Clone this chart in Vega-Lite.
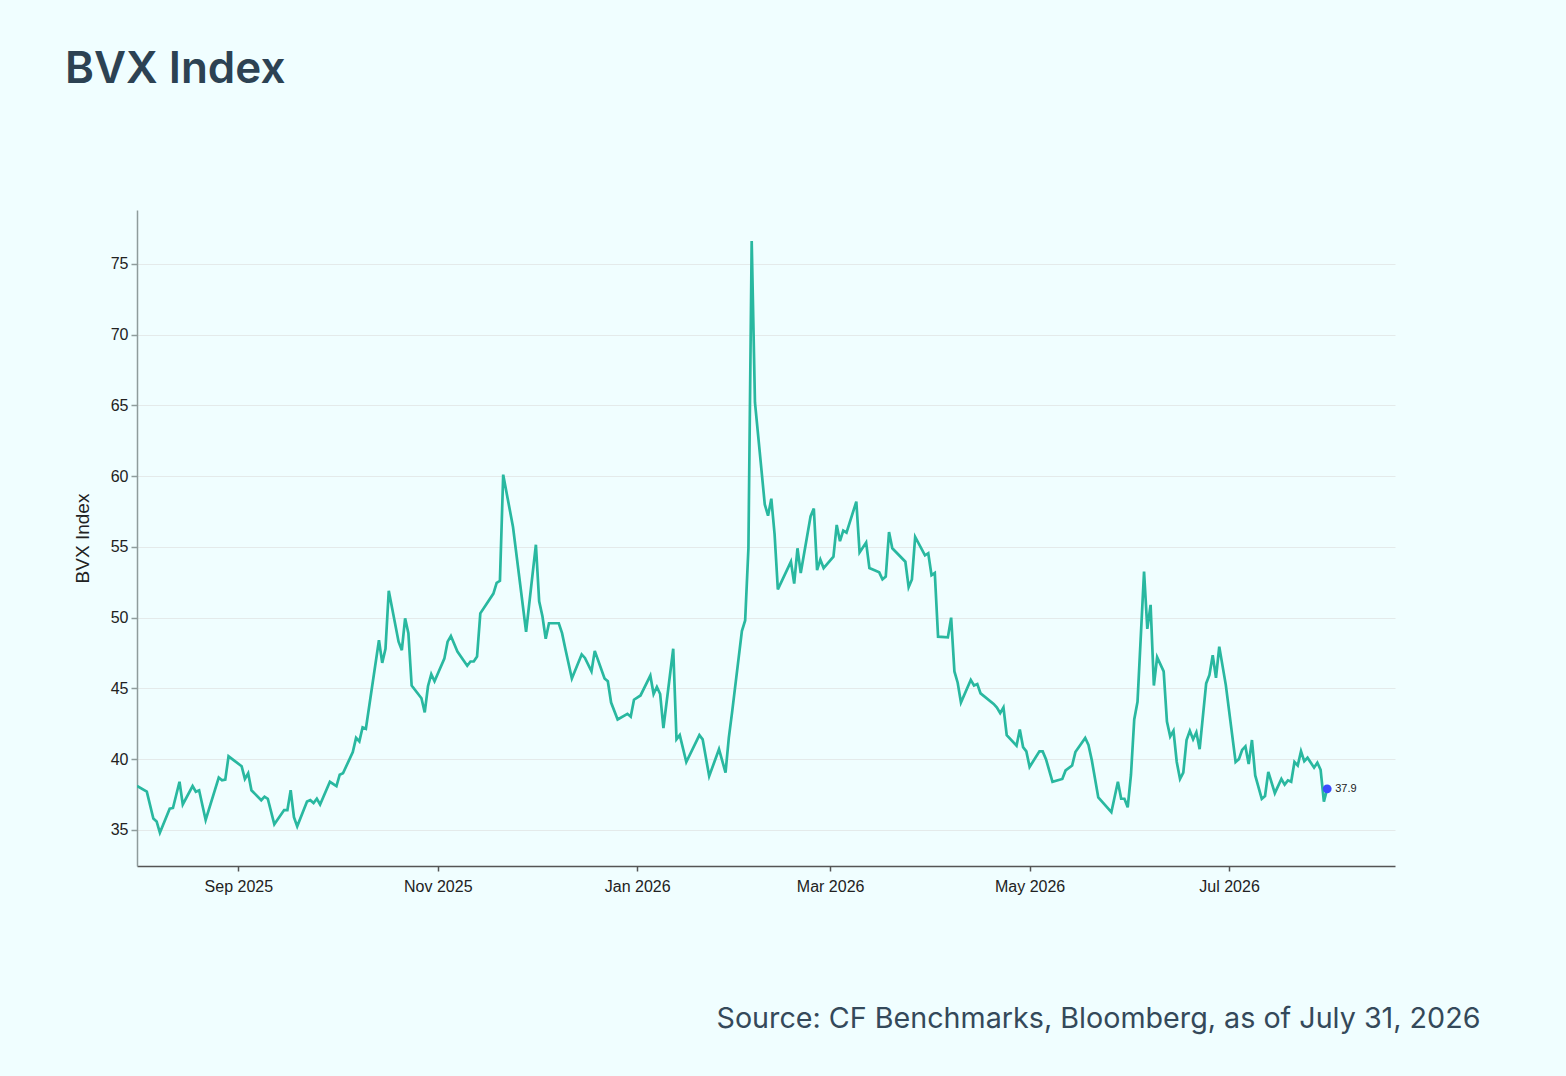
{
  "$schema": "https://vega.github.io/schema/vega-lite/v6.json",
  "autosize": "none",
  "width": 1258,
  "height": 656,
  "padding": {"left": 137, "top": 210, "right": 171, "bottom": 210},
  "background": "#f0feff",
  "title": {
    "text": "BVX Index",
    "anchor": "start",
    "frame": "group",
    "dx": -72,
    "offset": 118,
    "font": "Inter",
    "fontSize": 44,
    "fontWeight": 600,
    "color": "#2c4253"
  },
  "config": {
    "view": {"stroke": null},
    "axis": {
      "labelFont": "Liberation Sans",
      "labelFontSize": 16,
      "labelColor": "#222222",
      "titleFont": "Liberation Sans",
      "titleColor": "#222222",
      "titleFontWeight": "normal"
    }
  },
  "data": {
    "format": {"parse": {"date": "date:'%Y-%m-%d'"}},
    "values": [
      {"date": "2025-08-01", "value": 38.1},
      {"date": "2025-08-04", "value": 37.7},
      {"date": "2025-08-06", "value": 35.8},
      {"date": "2025-08-07", "value": 35.6},
      {"date": "2025-08-08", "value": 34.8},
      {"date": "2025-08-11", "value": 36.5},
      {"date": "2025-08-12", "value": 36.55},
      {"date": "2025-08-14", "value": 38.4},
      {"date": "2025-08-15", "value": 36.8},
      {"date": "2025-08-18", "value": 38.1},
      {"date": "2025-08-19", "value": 37.7},
      {"date": "2025-08-20", "value": 37.8},
      {"date": "2025-08-22", "value": 35.7},
      {"date": "2025-08-26", "value": 38.7},
      {"date": "2025-08-27", "value": 38.5},
      {"date": "2025-08-28", "value": 38.55},
      {"date": "2025-08-29", "value": 40.2},
      {"date": "2025-09-02", "value": 39.5},
      {"date": "2025-09-03", "value": 38.6},
      {"date": "2025-09-04", "value": 39.0},
      {"date": "2025-09-05", "value": 37.8},
      {"date": "2025-09-08", "value": 37.1},
      {"date": "2025-09-09", "value": 37.35},
      {"date": "2025-09-10", "value": 37.2},
      {"date": "2025-09-12", "value": 35.4},
      {"date": "2025-09-15", "value": 36.4},
      {"date": "2025-09-16", "value": 36.4},
      {"date": "2025-09-17", "value": 37.8},
      {"date": "2025-09-18", "value": 35.9},
      {"date": "2025-09-19", "value": 35.25},
      {"date": "2025-09-22", "value": 37.0},
      {"date": "2025-09-23", "value": 37.1},
      {"date": "2025-09-24", "value": 36.9},
      {"date": "2025-09-25", "value": 37.2},
      {"date": "2025-09-26", "value": 36.8},
      {"date": "2025-09-29", "value": 38.4},
      {"date": "2025-10-01", "value": 38.1},
      {"date": "2025-10-02", "value": 38.9},
      {"date": "2025-10-03", "value": 39.0},
      {"date": "2025-10-06", "value": 40.5},
      {"date": "2025-10-07", "value": 41.5},
      {"date": "2025-10-08", "value": 41.25},
      {"date": "2025-10-09", "value": 42.25},
      {"date": "2025-10-10", "value": 42.15},
      {"date": "2025-10-14", "value": 48.4},
      {"date": "2025-10-15", "value": 46.8},
      {"date": "2025-10-16", "value": 47.8},
      {"date": "2025-10-17", "value": 51.9},
      {"date": "2025-10-20", "value": 48.3},
      {"date": "2025-10-21", "value": 47.7},
      {"date": "2025-10-22", "value": 49.95},
      {"date": "2025-10-23", "value": 48.9},
      {"date": "2025-10-24", "value": 45.2},
      {"date": "2025-10-27", "value": 44.3},
      {"date": "2025-10-28", "value": 43.3},
      {"date": "2025-10-29", "value": 45.15},
      {"date": "2025-10-30", "value": 46.0},
      {"date": "2025-10-31", "value": 45.5},
      {"date": "2025-11-03", "value": 47.1},
      {"date": "2025-11-04", "value": 48.3},
      {"date": "2025-11-05", "value": 48.7},
      {"date": "2025-11-07", "value": 47.6},
      {"date": "2025-11-10", "value": 46.6},
      {"date": "2025-11-11", "value": 46.9},
      {"date": "2025-11-12", "value": 46.9},
      {"date": "2025-11-13", "value": 47.25},
      {"date": "2025-11-14", "value": 50.3},
      {"date": "2025-11-16", "value": 51.0},
      {"date": "2025-11-18", "value": 51.7},
      {"date": "2025-11-19", "value": 52.45},
      {"date": "2025-11-20", "value": 52.6},
      {"date": "2025-11-21", "value": 60.1},
      {"date": "2025-11-24", "value": 56.4},
      {"date": "2025-11-28", "value": 49.0},
      {"date": "2025-12-01", "value": 55.15},
      {"date": "2025-12-02", "value": 51.15},
      {"date": "2025-12-03", "value": 50.1},
      {"date": "2025-12-04", "value": 48.5},
      {"date": "2025-12-05", "value": 49.6},
      {"date": "2025-12-08", "value": 49.6},
      {"date": "2025-12-09", "value": 48.9},
      {"date": "2025-12-10", "value": 47.8},
      {"date": "2025-12-12", "value": 45.7},
      {"date": "2025-12-15", "value": 47.4},
      {"date": "2025-12-16", "value": 47.15},
      {"date": "2025-12-18", "value": 46.2},
      {"date": "2025-12-19", "value": 47.65},
      {"date": "2025-12-22", "value": 45.7},
      {"date": "2025-12-23", "value": 45.5},
      {"date": "2025-12-24", "value": 44.0},
      {"date": "2025-12-26", "value": 42.8},
      {"date": "2025-12-29", "value": 43.2},
      {"date": "2025-12-30", "value": 43.0},
      {"date": "2025-12-31", "value": 44.2},
      {"date": "2026-01-02", "value": 44.5},
      {"date": "2026-01-05", "value": 45.9},
      {"date": "2026-01-06", "value": 44.6},
      {"date": "2026-01-07", "value": 45.1},
      {"date": "2026-01-08", "value": 44.6},
      {"date": "2026-01-09", "value": 42.2},
      {"date": "2026-01-12", "value": 47.8},
      {"date": "2026-01-13", "value": 41.4},
      {"date": "2026-01-14", "value": 41.7},
      {"date": "2026-01-16", "value": 39.8},
      {"date": "2026-01-20", "value": 41.7},
      {"date": "2026-01-21", "value": 41.4},
      {"date": "2026-01-23", "value": 38.8},
      {"date": "2026-01-26", "value": 40.7},
      {"date": "2026-01-28", "value": 39.05},
      {"date": "2026-01-29", "value": 41.5},
      {"date": "2026-01-30", "value": 43.3},
      {"date": "2026-02-02", "value": 49.05},
      {"date": "2026-02-03", "value": 49.8},
      {"date": "2026-02-04", "value": 54.9},
      {"date": "2026-02-05", "value": 76.6},
      {"date": "2026-02-06", "value": 65.2},
      {"date": "2026-02-09", "value": 58.0},
      {"date": "2026-02-10", "value": 57.2},
      {"date": "2026-02-11", "value": 58.4},
      {"date": "2026-02-12", "value": 55.9},
      {"date": "2026-02-13", "value": 52.0},
      {"date": "2026-02-17", "value": 53.95},
      {"date": "2026-02-18", "value": 52.4},
      {"date": "2026-02-19", "value": 54.9},
      {"date": "2026-02-20", "value": 53.15},
      {"date": "2026-02-23", "value": 57.15},
      {"date": "2026-02-24", "value": 57.7},
      {"date": "2026-02-25", "value": 53.35},
      {"date": "2026-02-26", "value": 54.1},
      {"date": "2026-02-27", "value": 53.5},
      {"date": "2026-03-02", "value": 54.3},
      {"date": "2026-03-03", "value": 56.55},
      {"date": "2026-03-04", "value": 55.4},
      {"date": "2026-03-05", "value": 56.15},
      {"date": "2026-03-06", "value": 56.0},
      {"date": "2026-03-09", "value": 58.2},
      {"date": "2026-03-10", "value": 54.6},
      {"date": "2026-03-12", "value": 55.3},
      {"date": "2026-03-13", "value": 53.5},
      {"date": "2026-03-16", "value": 53.2},
      {"date": "2026-03-17", "value": 52.7},
      {"date": "2026-03-18", "value": 52.9},
      {"date": "2026-03-19", "value": 56.05},
      {"date": "2026-03-20", "value": 54.9},
      {"date": "2026-03-24", "value": 53.95},
      {"date": "2026-03-25", "value": 52.15},
      {"date": "2026-03-26", "value": 52.7},
      {"date": "2026-03-27", "value": 55.7},
      {"date": "2026-03-30", "value": 54.4},
      {"date": "2026-03-31", "value": 54.55},
      {"date": "2026-04-01", "value": 53.0},
      {"date": "2026-04-02", "value": 53.15},
      {"date": "2026-04-03", "value": 48.65},
      {"date": "2026-04-06", "value": 48.6},
      {"date": "2026-04-07", "value": 50.0},
      {"date": "2026-04-08", "value": 46.2},
      {"date": "2026-04-09", "value": 45.4},
      {"date": "2026-04-10", "value": 44.0},
      {"date": "2026-04-13", "value": 45.6},
      {"date": "2026-04-14", "value": 45.2},
      {"date": "2026-04-15", "value": 45.3},
      {"date": "2026-04-16", "value": 44.65},
      {"date": "2026-04-20", "value": 43.9},
      {"date": "2026-04-21", "value": 43.65},
      {"date": "2026-04-22", "value": 43.25},
      {"date": "2026-04-23", "value": 43.65},
      {"date": "2026-04-24", "value": 41.7},
      {"date": "2026-04-27", "value": 40.95},
      {"date": "2026-04-28", "value": 42.1},
      {"date": "2026-04-29", "value": 40.85},
      {"date": "2026-04-30", "value": 40.55},
      {"date": "2026-05-01", "value": 39.45},
      {"date": "2026-05-04", "value": 40.55},
      {"date": "2026-05-05", "value": 40.55},
      {"date": "2026-05-06", "value": 40.0},
      {"date": "2026-05-08", "value": 38.4},
      {"date": "2026-05-11", "value": 38.6},
      {"date": "2026-05-12", "value": 39.2},
      {"date": "2026-05-14", "value": 39.55},
      {"date": "2026-05-15", "value": 40.5},
      {"date": "2026-05-18", "value": 41.5},
      {"date": "2026-05-19", "value": 41.0},
      {"date": "2026-05-20", "value": 39.95},
      {"date": "2026-05-22", "value": 37.3},
      {"date": "2026-05-26", "value": 36.25},
      {"date": "2026-05-28", "value": 38.4},
      {"date": "2026-05-29", "value": 37.2},
      {"date": "2026-05-30", "value": 37.2},
      {"date": "2026-05-31", "value": 36.6},
      {"date": "2026-06-01", "value": 38.9},
      {"date": "2026-06-02", "value": 42.8},
      {"date": "2026-06-03", "value": 44.05},
      {"date": "2026-06-05", "value": 53.25},
      {"date": "2026-06-06", "value": 49.2},
      {"date": "2026-06-07", "value": 50.9},
      {"date": "2026-06-08", "value": 45.2},
      {"date": "2026-06-09", "value": 47.2},
      {"date": "2026-06-11", "value": 46.2},
      {"date": "2026-06-12", "value": 42.65},
      {"date": "2026-06-13", "value": 41.6},
      {"date": "2026-06-14", "value": 42.0},
      {"date": "2026-06-15", "value": 39.8},
      {"date": "2026-06-16", "value": 38.6},
      {"date": "2026-06-17", "value": 39.05},
      {"date": "2026-06-18", "value": 41.35},
      {"date": "2026-06-19", "value": 42.0},
      {"date": "2026-06-20", "value": 41.4},
      {"date": "2026-06-21", "value": 41.9},
      {"date": "2026-06-22", "value": 40.7},
      {"date": "2026-06-24", "value": 45.35},
      {"date": "2026-06-25", "value": 45.95},
      {"date": "2026-06-26", "value": 47.35},
      {"date": "2026-06-27", "value": 45.75},
      {"date": "2026-06-28", "value": 47.95},
      {"date": "2026-06-30", "value": 45.25},
      {"date": "2026-07-03", "value": 39.8},
      {"date": "2026-07-04", "value": 40.0},
      {"date": "2026-07-05", "value": 40.65},
      {"date": "2026-07-06", "value": 40.9},
      {"date": "2026-07-07", "value": 39.65},
      {"date": "2026-07-08", "value": 41.35},
      {"date": "2026-07-09", "value": 38.85},
      {"date": "2026-07-11", "value": 37.2},
      {"date": "2026-07-12", "value": 37.4},
      {"date": "2026-07-13", "value": 39.1},
      {"date": "2026-07-15", "value": 37.6},
      {"date": "2026-07-17", "value": 38.6},
      {"date": "2026-07-18", "value": 38.2},
      {"date": "2026-07-19", "value": 38.5},
      {"date": "2026-07-20", "value": 38.4},
      {"date": "2026-07-21", "value": 39.8},
      {"date": "2026-07-22", "value": 39.55},
      {"date": "2026-07-23", "value": 40.55},
      {"date": "2026-07-24", "value": 39.85},
      {"date": "2026-07-25", "value": 40.1},
      {"date": "2026-07-27", "value": 39.4},
      {"date": "2026-07-28", "value": 39.75},
      {"date": "2026-07-29", "value": 39.25},
      {"date": "2026-07-30", "value": 37.0},
      {"date": "2026-07-31", "value": 37.9}
    ]
  },
  "encoding": {
    "x": {
      "field": "date",
      "type": "temporal",
      "scale": {
        "domain": [
          {"year": 2025, "month": 8, "date": 1},
          {"year": 2026, "month": 8, "date": 20, "hours": 18}
        ]
      },
      "axis": {
        "values": [
          {"year": 2025, "month": 9, "date": 1},
          {"year": 2025, "month": 11, "date": 1},
          {"year": 2026, "month": 1, "date": 1},
          {"year": 2026, "month": 3, "date": 1},
          {"year": 2026, "month": 5, "date": 1},
          {"year": 2026, "month": 7, "date": 1}
        ],
        "format": "%b %Y",
        "grid": false,
        "domainColor": "#555555",
        "domainWidth": 1.5,
        "tickColor": "#555555",
        "tickSize": 5,
        "tickWidth": 1.5,
        "labelPadding": 7,
        "title": "Source: CF Benchmarks, Bloomberg, as of July 31, 2026",
        "titleFont": "Inter",
        "titleFontSize": 28.7,
        "titleFontWeight": 400,
        "titleColor": "#34495a",
        "titleAlign": "right",
        "titleBaseline": "alphabetic",
        "titleX": 1343,
        "titleY": 161
      }
    },
    "y": {
      "field": "value",
      "type": "quantitative",
      "scale": {"domain": [32.45, 78.8], "nice": false, "zero": false},
      "axis": {
        "values": [35, 40, 45, 50, 55, 60, 65, 70, 75],
        "grid": true,
        "gridColor": "#e4eaea",
        "gridWidth": 1,
        "domainColor": "#8f9c9c",
        "domainWidth": 1.5,
        "tickColor": "#8f9c9c",
        "tickSize": 6,
        "tickWidth": 1.5,
        "labelPadding": 3,
        "title": "BVX Index",
        "titleFontSize": 19,
        "titlePadding": 18
      }
    }
  },
  "layer": [
    {
      "mark": {"type": "line", "color": "#29b8a0", "strokeWidth": 2.7, "clip": true}
    },
    {
      "transform": [{"filter": "time(datum.date) == time(datetime(2026, 6, 31))"}],
      "mark": {"type": "point", "filled": true, "color": "#3b4cff", "size": 80, "opacity": 1}
    },
    {
      "transform": [{"filter": "time(datum.date) == time(datetime(2026, 6, 31))"}],
      "mark": {"type": "text", "align": "left", "dx": 8, "font": "Liberation Sans", "fontSize": 11, "color": "#222222"},
      "encoding": {"text": {"field": "value", "type": "quantitative", "format": ".1f"}}
    }
  ]
}
